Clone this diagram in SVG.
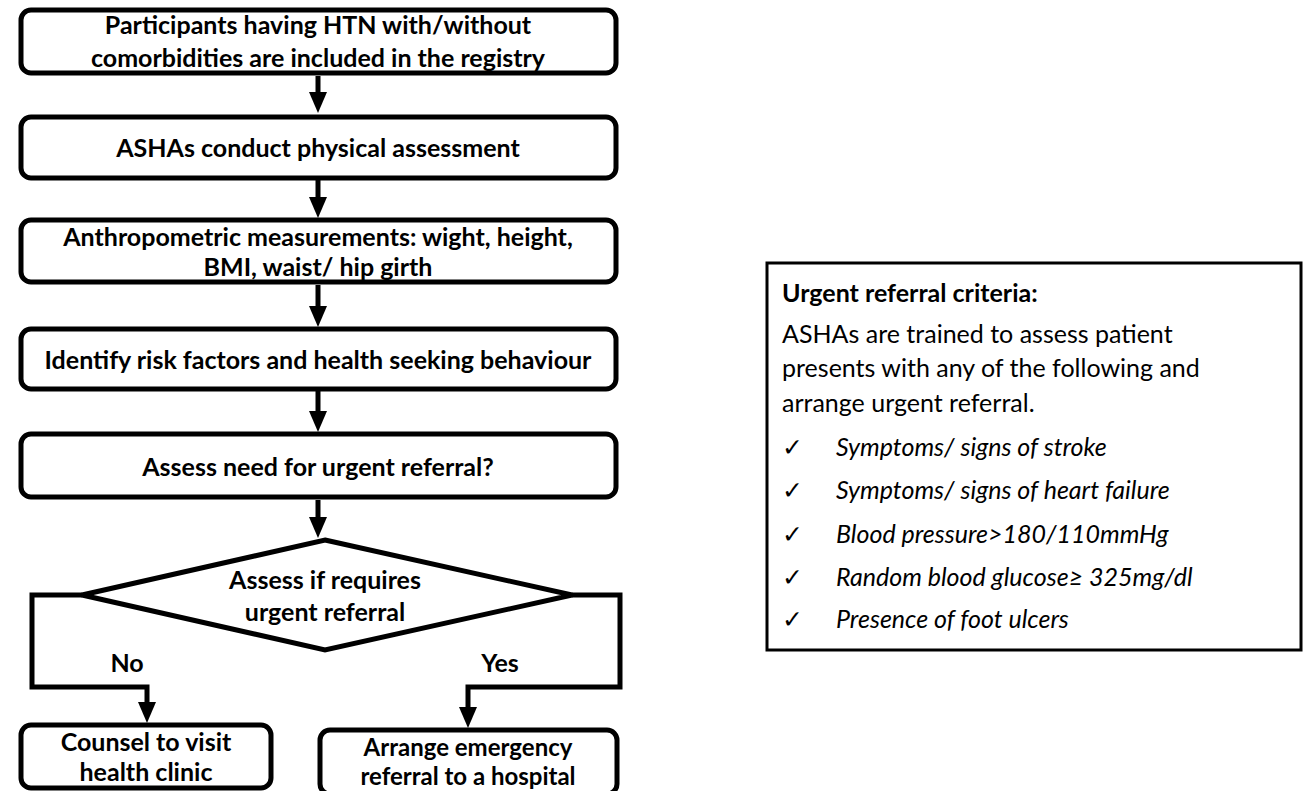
<svg xmlns="http://www.w3.org/2000/svg" width="1308" height="791" viewBox="0 0 1308 791">
<style>
.box{fill:#fff;stroke:#000;stroke-width:5}
.t{font-family:Lato,"Liberation Sans",sans-serif;font-weight:bold;font-size:25px;text-anchor:middle;fill:#000}
.s{font-size:24px}
.c{fill:none;stroke:#000;stroke-width:5}
.r{font-family:Lato,"Liberation Sans",sans-serif;font-size:25px;fill:#000}
.i{font-family:Lato,"Liberation Sans",sans-serif;font-size:25px;font-style:italic;fill:#000}
.ck{font-family:"DejaVu Sans",sans-serif;font-size:25px;fill:#000}
</style>
<defs>
<marker id="ah" markerUnits="userSpaceOnUse" markerWidth="22" markerHeight="18" refX="1" refY="9" orient="auto">
<path d="M0,0 L21,9 L0,18 Z" fill="#000"/>
</marker>
</defs>
<rect width="1308" height="791" fill="#fff"/>
<g id="connectors">
<path class="c" d="M318,76 V93" marker-end="url(#ah)"/>
<path class="c" d="M318,180 V198" marker-end="url(#ah)"/>
<path class="c" d="M318,285 V307" marker-end="url(#ah)"/>
<path class="c" d="M318,391 V412" marker-end="url(#ah)"/>
<path class="c" d="M318,500 V518" marker-end="url(#ah)"/>
<path class="c" d="M82,595 H32 V687 H147 V703" marker-end="url(#ah)"/>
<path class="c" d="M572,595 H620 V687 H468 V708" marker-end="url(#ah)"/>
<text class="t" x="127" y="672">No</text>
<text class="t" x="500" y="672">Yes</text>
</g>
<g id="n1">
<rect class="box" x="21" y="10" width="595" height="63" rx="10"/>
<text class="t" x="318" y="34">Participants having HTN with/without</text>
<text class="t" x="318" y="67">comorbidities are included in the registry</text>
</g>
<g id="n2">
<rect class="box" x="21" y="117" width="595" height="61" rx="10"/>
<text class="t" x="318" y="157">ASHAs conduct physical assessment</text>
</g>
<g id="n3">
<rect class="box" x="21" y="220" width="595" height="62" rx="10"/>
<text class="t" x="318" y="246">Anthropometric measurements: wight, height,</text>
<text class="t" x="318" y="276">BMI, waist/ hip girth</text>
</g>
<g id="n4">
<rect class="box" x="21" y="329" width="595" height="60" rx="10"/>
<text class="t" x="318" y="369">Identify risk factors and health seeking behaviour</text>
</g>
<g id="n5">
<rect class="box" x="21" y="434" width="595" height="63" rx="10"/>
<text class="t" x="318" y="476">Assess need for urgent referral?</text>
</g>
<g id="n6">
<polygon class="box" points="325,540 572,595 325,650 82,595"/>
<text class="t" x="325" y="589">Assess if requires</text>
<text class="t" x="325" y="621">urgent referral</text>
</g>
<g id="n7">
<rect class="box" x="21" y="725" width="250" height="63" rx="10"/>
<text class="t" x="146" y="751">Counsel to visit</text>
<text class="t" x="146" y="781">health clinic</text>
</g>
<g id="n8">
<rect class="box" x="320" y="730" width="297" height="64" rx="10"/>
<text class="t s" x="468" y="756">Arrange emergency</text>
<text class="t s" x="468" y="785">referral to a hospital</text>
</g>
<g id="n9">
<rect x="767" y="263" width="534" height="387" fill="#fff" stroke="#000" stroke-width="3"/>
<text class="r" x="782" y="302" font-weight="bold">Urgent referral criteria:</text>
<text class="r" x="782" y="343">ASHAs are trained to assess patient</text>
<text class="r" x="782" y="377">presents with any of the following and</text>
<text class="r" x="782" y="412">arrange urgent referral.</text>
<text class="ck" x="782" y="456">✓</text>
<text class="i" x="836" y="456">Symptoms/ signs of stroke</text>
<text class="ck" x="782" y="499">✓</text>
<text class="i" x="836" y="499">Symptoms/ signs of heart failure</text>
<text class="ck" x="782" y="543">✓</text>
<text class="i" x="836" y="543">Blood pressure&gt;180/110mmHg</text>
<text class="ck" x="782" y="586">✓</text>
<text class="i" x="836" y="586">Random blood glucose≥ 325mg/dl</text>
<text class="ck" x="782" y="628">✓</text>
<text class="i" x="836" y="628">Presence of foot ulcers</text>
</g>
</svg>
